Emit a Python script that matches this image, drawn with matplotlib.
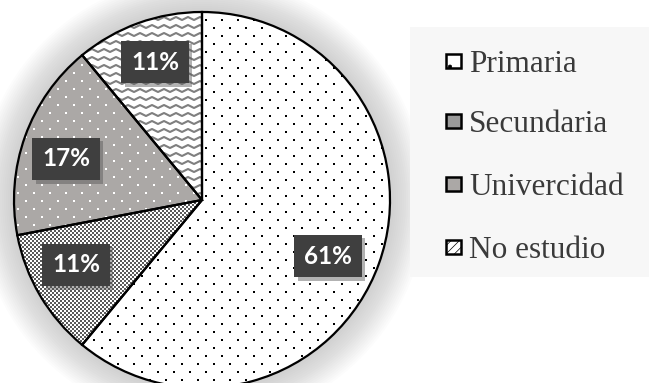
import numpy as np
import matplotlib
matplotlib.use("Agg")
import matplotlib.pyplot as plt
import matplotlib.patches as mpatches
import matplotlib.patheffects as pe
from matplotlib.collections import LineCollection
from matplotlib.colors import ListedColormap

# Distribution by level of studies
categories = ["Primaria", "Secundaria", "Univercidad", "No estudio"]
percentages = [61, 11, 17, 11]

W, H = 649, 383
cx, cy, R = 202, H - 200, 188

fig = plt.figure(figsize=(W / 100, H / 100), dpi=100)
ax = fig.add_axes([0, 0, 1, 1])
fig.patch.set_facecolor("white")

# soft glow behind the pie
for k in range(18):
    ax.add_patch(mpatches.Circle((cx, cy), R + 2 + 2 * k, facecolor="#7a7a7a",
                                 edgecolor="none", alpha=0.019, zorder=0))

# light panel behind the legend
ax.add_patch(mpatches.Rectangle((410, H - 277), W - 410, 250, facecolor="#f7f7f7",
                                edgecolor="none", zorder=0.5))

fills = ["white", "white", "#aba8a6", "white"]
wedges, _ = ax.pie(percentages, center=(cx, cy), radius=R, startangle=90,
                   counterclock=False, colors=fills,
                   wedgeprops=dict(edgecolor="none", linewidth=0))


def dot_grid(dx=16, dy=8):
    xs, ys = [], []
    for j, y in enumerate(np.arange(cy - R, cy + R, dy)):
        off = (dx / 2) * (j % 2)
        row = np.arange(cx - R + off, cx + R, dx)
        xs.extend(row)
        ys.extend([y] * len(row))
    return np.array(xs), np.array(ys)


# Primaria: black dots on white
gx, gy = dot_grid()
sc = ax.scatter(gx, gy, s=2.3, marker="s", color="black", linewidths=0, zorder=2)
sc.set_clip_path(wedges[0])

# Univercidad: white dots on gray
sc = ax.scatter(gx + 4, gy + 3, s=2.3, marker="s", color="white", linewidths=0, zorder=2)
sc.set_clip_path(wedges[2])

# Secundaria: fine checkerboard
n = R
ii, jj = np.meshgrid(np.arange(n), np.arange(n))
board = (ii + jj) % 2
im = ax.imshow(board, cmap=ListedColormap(["white", "#5a5a5a"]), interpolation="nearest",
               extent=(cx - R, cx + R, cy - R, cy + R), zorder=2)
im.set_clip_path(wedges[1])

# No estudio: gray zigzag lines
segs = []
for y in np.arange(cy - R, cy + R, 8):
    xz = np.arange(cx - R, cx + R, 6)
    yz = y + 3 * (np.arange(len(xz)) % 2)
    segs.append(np.column_stack([xz, yz]))
lc = LineCollection(segs, colors="#7f7f7f", linewidths=1.5, zorder=2)
ax.add_collection(lc)
lc.set_clip_path(wedges[3])

# wedge outlines on top of the textures
for w in wedges:
    ax.add_patch(mpatches.Wedge(w.center, w.r, w.theta1, w.theta2, fill=False,
                                edgecolor="black", linewidth=1.6, zorder=3))

# value labels
label_pos = [(328, 256), (76, 265), (66, 159), (155, 62)]
for p, (lx, ly) in zip(percentages, label_pos):
    t = ax.text(lx, H - ly, f"{p}%", ha="center", va="center", color="white",
                fontsize=17.5, fontweight="bold", family="Lato", zorder=5,
                bbox=dict(boxstyle="square,pad=0.4", facecolor="#3f3f3f",
                          edgecolor="none"))
    t.get_bbox_patch().set_path_effects([
        pe.SimplePatchShadow(offset=(2.5, -2.5), shadow_rgbFace="#555555", alpha=0.45),
        pe.Normal()])

# legend
legend_style = [
    dict(facecolor="white", hatch="."),
    dict(facecolor="#9a9a9a"),
    dict(facecolor="#aba8a6"),
    dict(facecolor="white", hatch="////"),
]
baselines = [72, 132, 195, 258]
plt.rcParams["hatch.linewidth"] = 0.5
for name, style, base in zip(categories, legend_style, baselines):
    ax.add_patch(mpatches.Rectangle((446, H - base + 4), 15, 14, edgecolor="black",
                                    linewidth=1.8, zorder=4, **style))
    ax.text(469, H - base, name, ha="left", va="baseline", fontsize=22.5,
            family="Liberation Serif", color="#3a3a3a", zorder=4)

ax.set_xlim(0, W)
ax.set_ylim(0, H)
ax.set_aspect("auto")
ax.axis("off")

fig.savefig("out.png", dpi=100)
